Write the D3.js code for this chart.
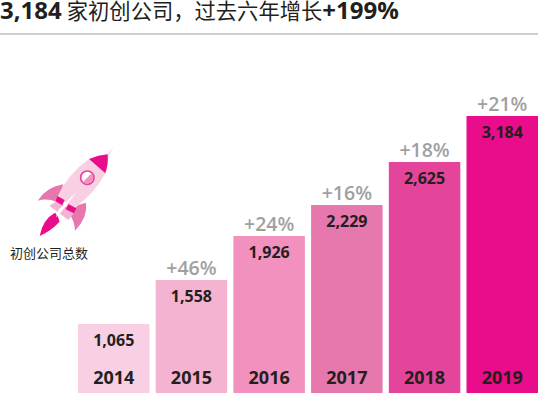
<!DOCTYPE html>
<html>
<head>
<meta charset="utf-8">
<script src="https://cdn.jsdelivr.net/npm/d3@7"></script>
<style>
  html, body { margin: 0; padding: 0; background: #fff; }
  svg { display: block; }
  text { font-family: "Open Sans", "Noto Sans CJK SC", sans-serif; }
</style>
</head>
<body>
<div id="chart"></div>
<script>
var years = ["2014", "2015", "2016", "2017", "2018", "2019"];
var startups = [1065, 1558, 1926, 2229, 2625, 3184];
var growth = ["", "+46%", "+24%", "+16%", "+18%", "+21%"];
var barColors = ["#f9cfe3", "#f4b3d0", "#f291bd", "#e678ae", "#e44499", "#e90c8b"];

var svgWidth = 538;
var svgHeight = 394;

var svg = d3.select("#chart")
  .append("svg")
  .attr("width", svgWidth)
  .attr("height", svgHeight);

// Title
var title = svg.append("text")
  .attr("x", 0)
  .attr("y", 19)
  .attr("fill", "#231f20");

title.append("tspan").attr("font-size", 24).attr("font-weight", 700).text("3,184");
title.append("tspan").attr("font-size", 21.3).attr("dx", 5).attr("font-family", "Noto Sans CJK SC").text("家初创公司，过去六年增长");
title.append("tspan").attr("font-size", 24).attr("font-weight", 700).text("+199%");

svg.append("line")
  .attr("x1", 0)
  .attr("x2", svgWidth)
  .attr("y1", 34)
  .attr("y2", 34)
  .attr("stroke", "#9a9a9a")
  .attr("stroke-width", 1);

// Scales
var xScale = d3.scaleBand()
  .domain(years)
  .range([78, 538])
  .paddingInner(0.08)
  .paddingOuter(0);

// The picture's bars aren't quite proportional, so the scale is piecewise on the values
var yScale = d3.scaleLinear()
  .domain([0].concat(startups))
  .range([393, 324, 280, 236, 205, 162, 116]);

// Bars
var bars = svg.selectAll(".bar")
  .data(years)
  .enter()
  .append("g")
  .attr("class", "bar");

bars.append("rect")
  .attr("x", d => xScale(d))
  .attr("y", (d, i) => yScale(startups[i]))
  .attr("width", xScale.bandwidth())
  .attr("height", (d, i) => yScale(0) - yScale(startups[i]))
  .attr("fill", (d, i) => barColors[i]);

bars.append("text")
  .attr("x", d => xScale(d) + xScale.bandwidth() / 2)
  .attr("y", (d, i) => yScale(startups[i]) + 22)
  .attr("text-anchor", "middle")
  .attr("font-size", 16)
  .attr("font-weight", 700)
  .attr("fill", "#231f20")
  .text((d, i) => d3.format(",")(startups[i]));

bars.append("text")
  .attr("x", d => xScale(d) + xScale.bandwidth() / 2)
  .attr("y", 384)
  .attr("text-anchor", "middle")
  .attr("font-size", 18)
  .attr("font-weight", 700)
  .attr("fill", "#231f20")
  .text(d => d);

bars.append("text")
  .attr("x", d => xScale(d) + xScale.bandwidth() / 2)
  .attr("y", (d, i) => yScale(startups[i]) - 5)
  .attr("text-anchor", "middle")
  .attr("font-size", 19.5)
  .attr("font-weight", 600)
  .attr("fill", "#a0a0a0")
  .text((d, i) => growth[i]);

svg.append("text")
  .attr("x", 10)
  .attr("y", 258)
  .attr("font-size", 13)
  .attr("font-family", "Noto Sans CJK SC")
  .attr("fill", "#231f20")
  .text("初创公司总数");

// Rocket, drawn at 3x and scaled down
var rocket = svg.append("g")
  .attr("transform", "translate(0, 140) scale(0.3333)");

rocket.append("path").attr("d", "M340,20 L318,50 L326,48 Z").attr("fill", "#f9cfe3");
rocket.append("path").attr("d", "M190,133 Q140,140 113,182 Q142,174 170,186 L185,150 Z").attr("fill", "#e678ae");
rocket.append("path").attr("d", "M258,188 Q264,232 225,272 Q224,245 208,220 L235,195 Z").attr("fill", "#e678ae");
rocket.append("path").attr("d", "M148,197 L172,183 L225,215 L205,240 Z").attr("fill", "#f4b3d0");
rocket.append("path").attr("d", "M267,57 Q205,100 172,170 L222,205 Q285,160 316,100 Z").attr("fill", "#f9cfe3");
rocket.append("path").attr("d", "M267,57 Q295,45 323,43 Q326,72 316,100 Z").attr("fill", "#e90c8b");
rocket.append("path").attr("d", "M172,168 L194,180 L187,196 L167,184 Z").attr("fill", "#e90c8b");
rocket.append("path").attr("d", "M205,192 L229,205 L222,220 L197,208 Z").attr("fill", "#e90c8b");
rocket.append("path").attr("d", "M119,288 Q128,238 165,218 Q178,232 178,246 Q152,274 119,288 Z").attr("fill", "#e90c8b");
rocket.append("path").attr("d", "M230,155 L175,210 L168,232 L182,218 Z").attr("fill", "#fff");
rocket.append("circle").attr("cx", 262).attr("cy", 113).attr("r", 20)
  .attr("fill", "#fff").attr("stroke", "#e44499").attr("stroke-width", 5);
rocket.append("path").attr("d", "M276,99 A20,20 0 0 1 248,127 Z").attr("fill", "#f291bd");
</script>
</body>
</html>
